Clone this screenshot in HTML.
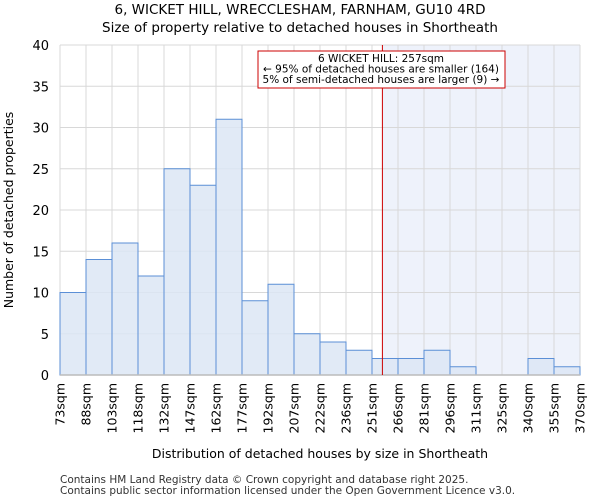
<!DOCTYPE html>
<html><head><meta charset="utf-8"><style>
body{margin:0;background:#fff;font-family:"DejaVu Sans","Liberation Sans",sans-serif;}
</style></head><body>
<svg id="c" width="600" height="500" xmlns="http://www.w3.org/2000/svg" font-family="DejaVu Sans, Liberation Sans, sans-serif">
<text x="300" y="14" text-anchor="middle" font-size="13.5">6, WICKET HILL, WRECCLESHAM, FARNHAM, GU10 4RD</text>
<text x="300" y="32" text-anchor="middle" font-size="13.5">Size of property relative to detached houses in Shortheath</text>
<g id="plot"></g>
<text transform="translate(13,210) rotate(-90)" text-anchor="middle" font-size="12.5">Number of detached properties</text>
<text x="320" y="458" text-anchor="middle" font-size="12.5">Distribution of detached houses by size in Shortheath</text>
<text x="60" y="483" font-size="10.5" fill="#333">Contains HM Land Registry data © Crown copyright and database right 2025.</text>
<text x="60" y="494" font-size="10.5" fill="#333">Contains public sector information licensed under the Open Government Licence v3.0.</text>
</svg>
<script>
const binLabels=["73sqm","88sqm","103sqm","118sqm","132sqm","147sqm","162sqm","177sqm","192sqm","207sqm","222sqm","236sqm","251sqm","266sqm","281sqm","296sqm","311sqm","325sqm","340sqm","355sqm","370sqm"];
const binEdges=[73,88,103,118,132,147,162,177,192,207,222,236,251,266,281,296,311,325,340,355,370];
const counts=[10,14,16,12,25,23,31,9,11,5,4,3,2,2,3,1,0,0,2,1];
const yTicks=[0,5,10,15,20,25,30,35,40];
const subject=257;
const NS="http://www.w3.org/2000/svg";
const L=60,R=580,T=45,B=375,yMax=40;
const n=counts.length,bw=(R-L)/n;
const xi=i=>L+i*bw;
const y=v=>B-(v/yMax)*(B-T);
function xv(v){for(let i=0;i<binEdges.length-1;i++){if(v<=binEdges[i+1])return xi(i)+(v-binEdges[i])/(binEdges[i+1]-binEdges[i])*bw;}return R;}
const g=document.getElementById('plot');
function mk(t,a){const e=document.createElementNS(NS,t);for(const k in a)e.setAttribute(k,a[k]);g.appendChild(e);return e;}
const sx=xv(subject);
let e=mk('rect',{x:sx,y:T,width:R-sx,height:B-T,fill:'#eef2fb'});


for(let i=0;i<=n;i++){e=mk('line',{x1:xi(i),x2:xi(i),y1:T,y2:B,stroke:'#d8d8d8','stroke-width':1});

}
yTicks.forEach(t=>{e=mk('line',{x1:L,x2:R,y1:y(t),y2:y(t),stroke:'#d8d8d8','stroke-width':1});


e=mk('text',{x:L-11,y:y(t)+5,'text-anchor':'end','font-size':13});e.textContent=t;

});
counts.forEach((c,i)=>{if(c<=0)return;e=mk('rect',{x:xi(i),y:y(c),width:bw,height:B-y(c),fill:'#dce6f4','fill-opacity':0.85,stroke:'#5b8fd6','stroke-width':1});

});
e=mk('line',{x1:L,x2:R,y1:B,y2:B,stroke:'#bbb','stroke-width':1.5});


binLabels.forEach((l,i)=>{const xx=xi(i)+4.5;e=mk('text',{x:0,y:0,transform:`translate(${xx},${B+8}) rotate(-90)`,'text-anchor':'end','font-size':12.5});e.textContent=l;

});
e=mk('line',{x1:sx,x2:sx,y1:T,y2:B,stroke:'#cc0000','stroke-width':1});


e=mk('rect',{x:258,y:51,width:247,height:37,fill:'#fff',stroke:'#cc0000','stroke-width':1});


const lines=["6 WICKET HILL: 257sqm","← 95% of detached houses are smaller (164)","5% of semi-detached houses are larger (9) →"];
lines.forEach((t,i)=>{e=mk('text',{x:381,y:62+i*10.5,'text-anchor':'middle','font-size':10.5});e.textContent=t;

});
</script>
</body></html>
